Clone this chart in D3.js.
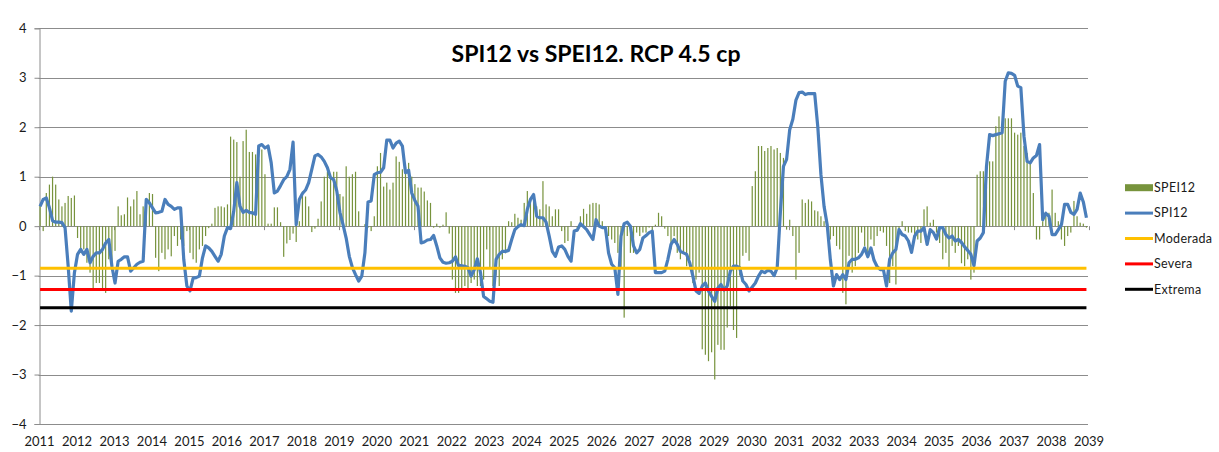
<!DOCTYPE html>
<html>
<head>
<meta charset="utf-8">
<script src="https://cdn.jsdelivr.net/npm/d3@7"></script>
<style>
body{margin:0;background:#fff;}
svg{display:block;}
text{font-family:Lato,"Open Sans",sans-serif;}
</style>
</head>
<body>
<div class="chart"></div>
<script>
var years = d3.range(2011, 2040);
var yTicks = [-4,-3,-2,-1,0,1,2,3,4];

// monthly values, Jan 2011 - Dec 2038
var spei12 = [
	0.42,-0.10,0.67,0.84,1.00,0.84,0.54,0.40,0.47,0.61,0.57,0.62,
	-0.24,-0.54,-0.47,-0.74,-0.94,-1.28,-1.15,-1.15,-1.28,-1.35,-0.67,-0.85,
	-0.50,0.40,0.22,0.24,0.58,0.40,0.54,0.71,0.24,0.40,0.47,0.67,
	0.65,-0.64,-0.91,-0.54,-0.67,-0.47,-0.61,-0.20,-0.40,-0.27,-0.40,-0.10,
	-0.54,-0.67,-0.74,-0.47,-0.40,-0.20,-0.04,0.05,0.37,0.40,0.40,0.38,
	0.44,1.81,1.75,1.70,1.00,1.72,1.95,1.50,1.50,1.45,1.35,1.55,
	1.05,0.05,0.05,0.38,0.38,0.08,-0.62,-0.35,-0.28,-0.15,-0.32,0.10,
	0.70,0.60,0.40,-0.12,-0.05,0.15,0.50,1.00,1.10,1.00,1.10,1.10,
	0.65,0.60,1.21,1.00,1.05,1.10,0.30,0.00,0.04,-0.03,-0.10,0.20,
	1.21,1.48,0.80,0.88,0.74,0.88,1.41,1.30,1.15,1.20,1.28,1.00,
	0.85,0.78,0.78,0.70,0.52,0.47,-0.03,0.05,-0.03,0.03,0.28,-0.15,
	-1.08,-1.35,-1.35,-1.30,-1.21,-1.25,-1.15,-1.08,-1.21,-1.21,-1.08,-0.47,
	-0.84,-1.21,-1.00,-1.21,-0.67,-0.55,0.10,0.08,0.25,0.17,0.13,0.47,
	0.71,0.54,0.54,0.40,0.34,0.91,0.44,0.40,0.20,0.34,0.34,-0.10,
	-0.34,-0.30,0.10,0.00,-0.05,0.20,0.35,0.25,0.44,0.47,0.47,0.44,
	0.10,-0.13,-0.20,-0.27,-0.34,-0.54,-0.84,-1.85,-0.20,-0.54,-0.54,-0.13,
	-0.20,-0.13,-0.13,-0.03,-0.13,0.03,0.27,0.20,-0.05,-0.20,-0.47,-0.20,
	-0.54,-0.67,-0.54,-0.81,-0.67,-1.15,-1.08,-0.94,-2.49,-2.60,-2.73,-2.55,
	-3.10,-2.40,-2.50,-2.50,-2.05,-1.62,-2.10,-2.26,-1.00,-0.60,-0.54,-0.70,
	0.81,1.11,1.62,1.62,1.52,1.58,1.62,1.55,1.58,1.48,1.38,-0.07,
	0.13,-0.20,-1.08,-0.54,0.54,0.47,0.54,0.50,0.32,0.30,0.20,0.10,
	-0.05,-0.27,-0.20,-0.40,-0.47,-1.35,-1.58,-0.60,-0.94,-0.81,-0.54,-0.13,
	-0.40,-0.54,-0.27,-0.40,-0.20,-0.10,-0.13,-0.40,-1.15,-0.81,-1.18,-0.13,
	0.10,-0.10,-0.13,-0.13,-0.20,-0.27,-0.34,0.34,0.40,0.07,0.13,-0.13,
	-0.34,-0.67,-0.54,-0.88,-0.40,-0.54,-0.40,-0.75,-0.81,-0.67,-1.08,-0.94,
	1.04,1.11,1.11,0.80,1.31,1.31,2.02,2.22,2.02,2.18,2.18,2.18,
	1.89,1.85,1.89,1.62,1.48,1.28,0.67,-0.27,-0.27,0.10,0.20,0.27,
	0.74,0.27,0.10,-0.27,-0.40,-0.20,-0.13,0.51,0.20,0.07,0.05,-0.03
];

var spi12 = [
	0.40,0.54,0.57,0.37,0.11,0.08,0.08,0.07,-0.03,-0.81,-1.72,-0.94,
	-0.57,-0.47,-0.57,-0.47,-0.74,-0.61,-0.54,-0.54,-0.47,-0.34,-0.27,-0.81,
	-1.15,-0.71,-0.67,-0.62,-0.62,-0.91,-0.84,-0.77,-0.73,-0.71,0.54,0.47,
	0.37,0.27,0.28,0.30,0.54,0.44,0.40,0.34,0.37,0.37,-0.67,-1.21,
	-1.31,-1.05,-1.04,-1.01,-0.64,-0.40,-0.44,-0.51,-0.61,-0.71,-0.57,-0.20,
	-0.03,-0.05,0.30,0.88,0.40,0.28,0.32,0.28,0.27,0.24,1.62,1.65,
	1.58,1.62,1.28,0.67,0.71,0.82,0.94,1.00,1.15,1.70,0.03,0.54,
	0.66,0.73,0.88,1.15,1.42,1.45,1.40,1.31,1.18,0.98,0.94,0.71,
	0.28,0.03,-0.24,-0.61,-0.84,-0.98,-1.11,-1.01,-0.54,0.49,0.51,1.04,
	1.08,1.09,1.18,1.74,1.74,1.58,1.68,1.72,1.62,1.08,1.13,0.67,
	0.52,0.40,-0.34,-0.32,-0.28,-0.27,-0.19,-0.40,-0.64,-0.73,-0.75,-0.74,
	-0.71,-0.62,-0.80,-0.80,-0.81,-0.84,-1.01,-0.88,-0.66,-0.94,-1.42,-1.47,
	-1.52,-1.54,-0.67,-0.57,-0.51,-0.51,-0.49,-0.27,-0.07,-0.01,0.03,0.01,
	0.34,0.54,0.64,0.20,0.17,0.17,0.08,-0.20,-0.51,-0.61,-0.42,-0.40,
	-0.47,-0.61,-0.71,-0.10,-0.08,0.05,-0.01,-0.07,-0.17,-0.27,0.13,0.00,
	-0.03,-0.03,-0.54,-0.77,-0.84,-1.38,-0.20,0.05,0.08,0.00,-0.40,-0.54,
	-0.47,-0.24,-0.19,-0.13,-0.10,-0.94,-0.94,-0.94,-0.91,-0.67,-0.37,-0.27,
	-0.37,-0.51,-0.54,-0.57,-0.74,-1.01,-1.31,-1.36,-1.21,-1.15,-1.31,-1.42,
	-1.52,-1.25,-1.18,-1.29,-1.21,-0.91,-0.81,-0.81,-0.84,-1.11,-1.18,-1.31,
	-1.23,-1.15,-1.01,-0.91,-0.94,-0.89,-0.91,-1.00,-0.84,0.27,1.21,1.35,
	1.95,2.16,2.55,2.70,2.71,2.66,2.68,2.68,2.68,2.00,1.04,0.40,
	0.03,-0.67,-1.21,-0.98,-1.08,-0.98,-1.08,-0.74,-0.67,-0.67,-0.64,-0.57,
	-0.44,-0.62,-0.44,-0.69,-0.82,-0.88,-0.88,-1.21,-0.67,-0.54,-0.47,-0.07,
	-0.17,-0.20,-0.30,-0.53,-0.20,-0.10,-0.10,-0.03,-0.37,-0.07,-0.13,-0.26,
	-0.03,-0.03,-0.17,-0.24,-0.20,-0.30,-0.27,-0.33,-0.42,-0.49,-0.57,-0.80,
	-0.30,-0.24,-0.13,1.21,1.85,1.83,1.85,1.87,1.89,2.93,3.10,3.09,
	3.05,2.83,2.80,1.82,1.31,1.28,1.38,1.43,1.65,0.13,0.26,0.20,
	-0.17,-0.17,-0.07,0.03,0.44,0.44,0.28,0.24,0.34,0.67,0.49,0.17
];

var thresholds = [
	{name:"Moderada", value:-0.85, color:"#FFC000"},
	{name:"Severa", value:-1.28, color:"#FF0000"},
	{name:"Extrema", value:-1.65, color:"#000000"}
];

var width = 1219, height = 452;
var gridColor = "#8c8c8c", textColor = "#1a1a1a";
var barColor = "#77933C", lineColor = "#4A7EBB";

var svg = d3.select(".chart").append("svg")
	.attr("width",width)
	.attr("height",height);

var x = d3.scaleLinear().domain([0,spi12.length]).range([38.5,1088]);
var y = d3.scaleLinear().domain([-4,4]).range([424,28.3]);
var xYear = function(d){ return x((d-2011)*12) + 0.5; };

// gridlines
svg.append("g")
	.selectAll("line")
	.data(yTicks)
	.enter()
	.append("line")
	.attr("x1",x(0))
	.attr("x2",x(spi12.length))
	.attr("y1",function(d){return Math.round(y(d))+0.5;})
	.attr("y2",function(d){return Math.round(y(d))+0.5;})
	.style("stroke",gridColor)
	.style("stroke-width",1);

// y axis
var yAxis = svg.append("g")
	.attr("transform","translate("+(Math.round(x(0))+0.5)+",0)")
	.call(d3.axisLeft(y).tickValues(yTicks).tickSize(5).tickPadding(8).tickFormat(d3.format("d")));
yAxis.select(".domain").style("stroke",gridColor);
yAxis.selectAll(".tick line").style("stroke",gridColor);
yAxis.selectAll("text").style("font-size","13px").style("fill",textColor);

// x labels
var xAxis = svg.append("g")
	.attr("transform","translate(0,"+y(-4)+")")
	.call(d3.axisBottom(d3.scaleLinear().domain([2011,2039]).range([xYear(2011),xYear(2039)]))
		.tickValues(years).tickSize(0).tickPadding(13).tickFormat(d3.format("d")));
xAxis.select(".domain").remove();
xAxis.selectAll("text").style("font-size","13px").style("fill",textColor);

// small ticks on the zero line
svg.append("g")
	.selectAll("line")
	.data(years.filter(function(d){return d%2==1;}))
	.enter()
	.append("line")
	.attr("x1",function(d){return Math.round(xYear(d))+0.5;})
	.attr("x2",function(d){return Math.round(xYear(d))+0.5;})
	.attr("y1",y(0))
	.attr("y2",y(0)+4)
	.style("stroke",gridColor);

// SPEI12 bars
svg.append("g")
	.selectAll("rect")
	.data(spei12)
	.enter()
	.append("rect")
	.attr("x",function(d,i){return x(i+0.5)-0.6;})
	.attr("width",1.2)
	.attr("y",function(d){return y(Math.max(0,d));})
	.attr("height",function(d){return Math.abs(y(d)-y(0));})
	.style("fill",barColor);

// SPI12 line
svg.append("path")
	.datum(spi12)
	.attr("d",d3.line().x(function(d,i){return x(i+0.5);}).y(function(d){return y(d);}))
	.style("fill","none")
	.style("stroke",lineColor)
	.style("stroke-width",3.2)
	.style("stroke-linejoin","round");

// threshold lines
svg.append("g")
	.selectAll("line")
	.data(thresholds)
	.enter()
	.append("line")
	.attr("x1",x(0.5))
	.attr("x2",x(spi12.length-0.5))
	.attr("y1",function(d){return y(d.value);})
	.attr("y2",function(d){return y(d.value);})
	.style("stroke",function(d){return d.color;})
	.style("stroke-width",3);

// title
var title = svg.append("text")
	.attr("x",596)
	.attr("y",62)
	.attr("text-anchor","middle")
	.style("font-weight","bold")
	.style("font-size","22px")
	.style("fill","#000")
	.text("SPI12 vs SPEI12. RCP 4.5 cp");
var tl = title.node().getComputedTextLength();
title.style("font-size",(22*289/tl).toFixed(2)+"px");

// legend
var legendItems = [{name:"SPEI12", color:barColor, type:"bar"},{name:"SPI12", color:lineColor, type:"line"}]
	.concat(thresholds.map(function(t){return {name:t.name, color:t.color, type:"line"};}));
var legend = svg.append("g").attr("transform","translate(1125,187.7)");
legend.selectAll("g")
	.data(legendItems)
	.enter()
	.append("g")
	.attr("transform",function(d,i){return "translate(0,"+(i*25.4)+")";})
	.each(function(d){
		var g = d3.select(this);
		if(d.type=="bar"){
			g.append("rect").attr("x",0).attr("y",-3.5).attr("width",28).attr("height",7).style("fill",d.color);
		}else{
			g.append("line").attr("x1",0).attr("x2",28).attr("y1",0).attr("y2",0)
				.style("stroke",d.color).style("stroke-width",3);
		}
		g.append("text")
			.attr("x",29)
			.attr("y",0)
			.attr("dy","0.35em")
			.style("font-size","12.5px")
			.style("letter-spacing","0.3px")
			.style("fill",textColor)
			.text(d.name);
	});
</script>
</body>
</html>
